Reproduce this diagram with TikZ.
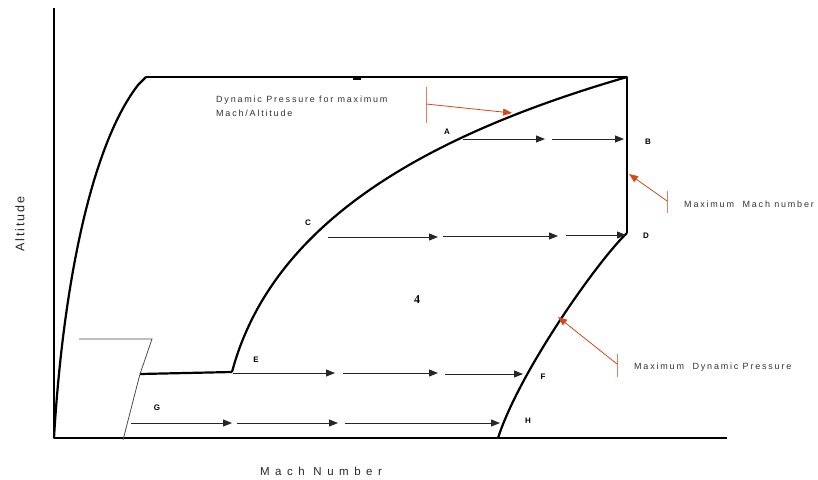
\documentclass[tikz,border=0pt]{standalone}
\usepackage{fontspec}
\setmainfont{Liberation Sans}
\newfontfamily\lblfont[LetterSpace=20]{Liberation Sans}
\newfontfamily\xaxfont[LetterSpace=48]{Liberation Sans}
\newfontfamily\yaxfont[LetterSpace=16]{Liberation Sans}
\newfontfamily\ptfont{Liberation Sans}
\newfontfamily\numfont{Liberation Serif}
\usetikzlibrary{arrows.meta}
\definecolor{redarr}{RGB}{214,72,24}
\tikzset{
  thickline/.style={line width=2.2pt, line join=round},
  thinline/.style={line width=0.8pt, black!70},
  flowarrow/.style={line width=0.9pt, black!85, -{Triangle[length=9pt,width=7pt]}},
  redarrow/.style={line width=0.8pt, redarr, -{Triangle[length=9pt,width=7pt]}},
  redbar/.style={line width=0.9pt, redarr!70},
  ptlabel/.style={font=\ptfont\fontsize{8}{9}\selectfont\bfseries, inner sep=0pt},
  note/.style={font=\lblfont\fontsize{9}{14}\selectfont, inner sep=0pt, anchor=west, align=left, black!80}
}
\begin{document}
\begin{tikzpicture}[x=1pt,y=-1pt]
\useasboundingbox (0,0) rectangle (818,479);
% axes
\coordinate (O) at (54,438);
\coordinate (Ytop) at (54,8);
\coordinate (Xend) at (727,438);
\draw[thickline] (Ytop) -- (O) -- (Xend);
% left boundary curve
\coordinate (L1) at (146,77);
\draw[thickline] (O) .. controls (62,300) and (88,150) .. (138,85) -- (L1);
% top line and right vertical
\coordinate (TR) at (627,77);
\coordinate (RD) at (627,233);
\draw[thickline] (L1) -- (TR) -- (RD);
\draw[line width=3pt] (353,78) -- (361,78);
% upper-middle curve (dynamic pressure for max Mach/Altitude)
\coordinate (Ebend) at (232,372);
\draw[thickline] (Ebend) .. controls (272,222) and (427,135) .. (TR);
% right lower curve (max dynamic pressure)
\coordinate (Hbot) at (498,438);
\draw[thickline] (RD) .. controls (600,258) and (520,370) .. (Hbot);
% lower horizontal
\coordinate (Estart) at (140,374);
\draw[thickline] (Estart) -- (Ebend);
% thin frame
\coordinate (T1) at (79,339);
\coordinate (T2) at (152,339);
\coordinate (T3) at (123,440);
\draw[thinline] (T1) -- (T2) -- (Estart) -- (T3);
% flow arrows row A
\coordinate (a0) at (463,139); \coordinate (a1) at (545,139);
\coordinate (a2) at (552,139); \coordinate (a3) at (624,139);
\draw[flowarrow] (a0) -- (a1);
\draw[flowarrow] (a2) -- (a3);
% row C
\coordinate (c0) at (328,237); \coordinate (c1) at (438,237);
\coordinate (c2) at (443,236); \coordinate (c3) at (558,236);
\coordinate (c4) at (566,235); \coordinate (c5) at (626,235);
\draw[flowarrow] (c0) -- (c1);
\draw[flowarrow] (c2) -- (c3);
\draw[flowarrow] (c4) -- (c5);
% row E
\coordinate (e0) at (233,373); \coordinate (e1) at (335,373);
\coordinate (e2) at (343,373); \coordinate (e3) at (438,373);
\coordinate (e4) at (445,374); \coordinate (e5) at (523,374);
\draw[flowarrow] (e0) -- (e1);
\draw[flowarrow] (e2) -- (e3);
\draw[flowarrow] (e4) -- (e5);
% row G
\coordinate (g0) at (131,423); \coordinate (g1) at (232,423);
\coordinate (g2) at (237,423); \coordinate (g3) at (338,423);
\coordinate (g4) at (345,423); \coordinate (g5) at (500,423);
\draw[flowarrow] (g0) -- (g1);
\draw[flowarrow] (g2) -- (g3);
\draw[flowarrow] (g4) -- (g5);
% point labels
\node[ptlabel] (A) at (447,132) {A};
\node[ptlabel] (B) at (648,142) {B};
\node[ptlabel] (C) at (308,223) {C};
\node[ptlabel] (D) at (646,236) {D};
\node[ptlabel] (E) at (256,360) {E};
\node[ptlabel] (F) at (543,377) {F};
\node[ptlabel] (G) at (157,408) {G};
\node[ptlabel] (H) at (528,421) {H};
\node[font=\numfont\fontsize{12}{13}\selectfont\bfseries, inner sep=0pt] (four) at (417,300) {4};
% annotations
\node[note] (n1) at (216,106) {Dynamic Pressure for maximum\\Mach/Altitude};
\coordinate (r1a) at (426,87); \coordinate (r1b) at (426,123);
\coordinate (r1t) at (426,104); \coordinate (r1h) at (512,113);
\draw[redbar] (r1a) -- (r1b);
\draw[redarrow] (r1t) -- (r1h);
\node[note] (n2) at (684,204) {Maximum\ \ Mach number};
\coordinate (r2a) at (667,191); \coordinate (r2b) at (667,213);
\coordinate (r2t) at (667,201); \coordinate (r2h) at (629,174);
\draw[redbar] (r2a) -- (r2b);
\draw[redarrow] (r2t) -- (r2h);
\node[note] (n3) at (634,367) {Maximum\ \ Dynamic Pressure};
\coordinate (r3a) at (617,354); \coordinate (r3b) at (617,377);
\coordinate (r3t) at (617,364); \coordinate (r3h) at (558,317);
\draw[redbar] (r3a) -- (r3b);
\draw[redarrow] (r3t) -- (r3h);
% axis labels
\node[font=\yaxfont\fontsize{12.5}{14}\selectfont, inner sep=0pt, rotate=90, black!85] (yl) at (20,224) {Altitude};
\node[font=\xaxfont\fontsize{11.5}{13}\selectfont, inner sep=0pt, black!85] (xl) at (321,471) {Mach Number};
\end{tikzpicture}
\end{document}
